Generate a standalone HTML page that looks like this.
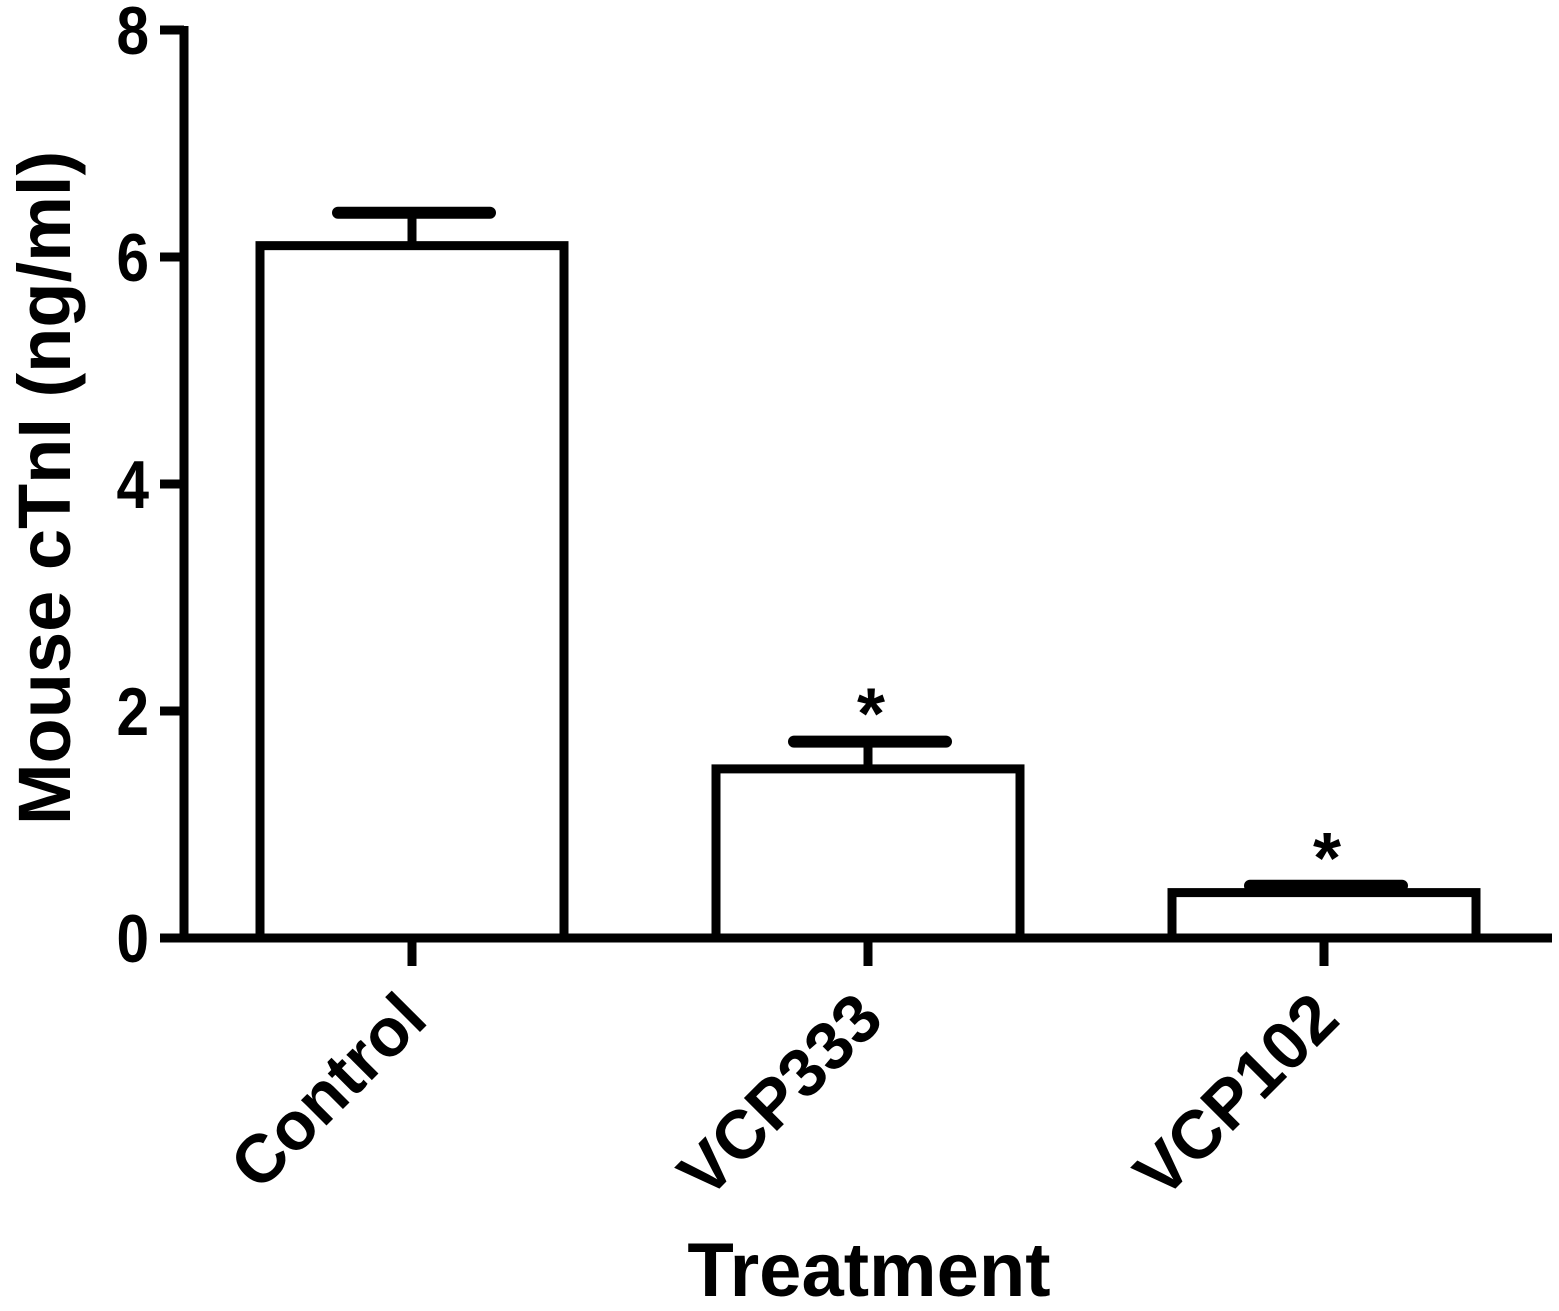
<!DOCTYPE html>
<html><head><meta charset="utf-8"><style>
body{margin:0;background:#fff}
svg{display:block}
text{font-family:"Liberation Sans",Arial,sans-serif;font-weight:bold;fill:#000}
</style></head><body>
<svg id="chart" width="1559" height="1311" viewBox="0 0 1559 1311" xmlns="http://www.w3.org/2000/svg">
<g id="axes"></g><g id="bars"></g>
<text transform="translate(70,488) rotate(-90)" text-anchor="middle" font-size="74">Mouse cTnI (ng/ml)</text>
<text x="869" y="1296" text-anchor="middle" font-size="76">Treatment</text>
</svg>
<script>
const categories=["Control","VCP333","VCP102"];
const means=[6.1,1.49,0.4];
const sems=[0.29,0.24,0.06];
const sig=[false,true,true];
const yTicks=[0,2,4,6,8];
const NS="http://www.w3.org/2000/svg";
const y0=938,yTop=30,yMax=8;
function y(v){return y0-(y0-yTop)*v/yMax;}
const centers=[412,868,1324];
function x(i){return centers[i];}
const barW=304;
function mk(tag,attrs,parent){const e=document.createElementNS(NS,tag);for(const k in attrs)e.setAttribute(k,attrs[k]);parent.appendChild(e);return e;}
const axes=document.getElementById('axes'),bars=document.getElementById('bars');
const ya=mk('line',{x1:184,y1:yTop-4,x2:184,y2:y0+4,stroke:'#000','stroke-width':9},axes);


const xa=mk('line',{x1:160,y1:y0,x2:1552,y2:y0,stroke:'#000','stroke-width':9},axes);


yTicks.forEach(t=>{
 const l=mk('line',{x1:160,y1:y(t),x2:184,y2:y(t),stroke:'#000','stroke-width':9},axes);
 
 
 const tx=mk('text',{transform:`translate(149,${y(t)+24}) scale(0.86,1)`,'text-anchor':'end','font-size':68},axes);
 tx.textContent=t;
 
 
});
categories.forEach((c,i)=>{
 const cx=x(i);
 const r=mk('rect',{x:cx-barW/2,y:y(means[i]),width:barW,height:y0-y(means[i]),fill:'#fff',stroke:'#000','stroke-width':9},bars);
 
 
 const e=mk('line',{x1:cx,y1:y(means[i]),x2:cx,y2:y(means[i]+sems[i]),stroke:'#000','stroke-width':9},bars);
 
 
 const cap=mk('line',{x1:cx-74,y1:y(means[i]+sems[i]),x2:cx+78,y2:y(means[i]+sems[i]),stroke:'#000','stroke-width':12,'stroke-linecap':'round'},bars);
 
 
 const tk=mk('line',{x1:cx,y1:y0,x2:cx,y2:966,stroke:'#000','stroke-width':9},axes);
 
 
 const lb=mk('text',{transform:`translate(${cx+18},1022) rotate(-45)`,'text-anchor':'end','font-size':68},axes);
 lb.textContent=c;
 
 
 if(sig[i]){
  const s=mk('text',{x:cx+3,y:y(means[i]+sems[i])-3,'text-anchor':'middle','font-size':72},bars);
  s.textContent='*';
  
  
 }
});
</script>
</body></html>
